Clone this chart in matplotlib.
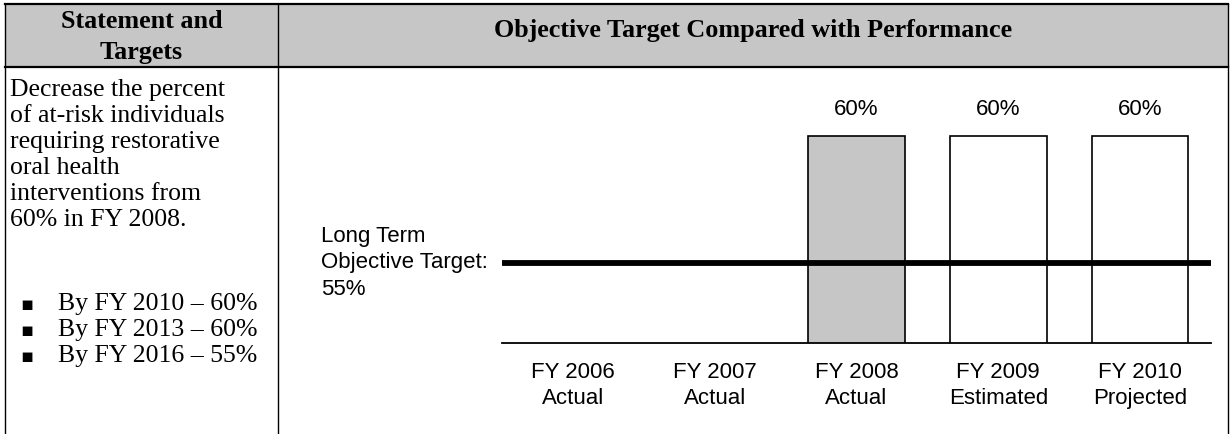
import matplotlib
matplotlib.use("Agg")
import matplotlib.pyplot as plt
from matplotlib.patches import Rectangle
from matplotlib.transforms import blended_transform_factory
import numpy as np

# data
years = ["FY 2006", "FY 2007", "FY 2008", "FY 2009", "FY 2010"]
status = ["Actual", "Actual", "Actual", "Estimated", "Projected"]
values = [None, None, 60, 60, 60]
target = 55

statement = [
    "Decrease the percent",
    "of at-risk individuals",
    "requiring restorative",
    "oral health",
    "interventions from",
    "60% in FY 2008.",
]
target_years = ["FY 2010", "FY 2013", "FY 2016"]
target_values = [60, 60, 55]

W, H = 1230, 434
SERIF = "Liberation Serif"
SANS = "Liberation Sans"
HEAD_GRAY = "#c6c6c6"

fig = plt.figure(figsize=(W / 100, H / 100), dpi=100)

# ─────────────────────────────────────────
# TABLE FRAME (pixel coordinates)
# ─────────────────────────────────────────
bg = fig.add_axes([0, 0, 1, 1])
bg.set_xlim(0, W)
bg.set_ylim(H, 0)
bg.axis("off")

left, mid, right = 5, 278, 1228
top, head_bot = 4, 67

bg.add_patch(Rectangle((left, top), right - left, head_bot - top,
                       fc=HEAD_GRAY, ec="none"))
bg.plot([left, right], [top, top], color="black", lw=1.6)
bg.plot([left, right], [head_bot, head_bot], color="black", lw=1.6)
for x in (left, mid, right):
    bg.plot([x, x], [top, H + 5], color="black", lw=1.0)

bg.text((left + mid) / 2, 22, "Statement and", ha="center", va="center",
        family=SERIF, weight="bold", fontsize=18.8)
bg.text((left + mid) / 2, 52, "Targets", ha="center", va="center",
        family=SERIF, weight="bold", fontsize=18.8)
bg.text((mid + right) / 2, 30, "Objective Target Compared with Performance",
        ha="center", va="center", family=SERIF, weight="bold", fontsize=18.8)

for i, line in enumerate(statement):
    bg.text(10, 90 + 26 * i, line, ha="left", va="center",
            family=SERIF, fontsize=18.5)

for i, (yr, val) in enumerate(zip(target_years, target_values)):
    y = 304 + 26 * i
    bg.text(27, y, "\u25aa", ha="center", va="center",
            family="DejaVu Sans", fontsize=14)
    bg.text(58, y, f"By {yr} \u2013 {val}%", ha="left", va="center",
            family=SERIF, fontsize=18.5)

# ─────────────────────────────────────────
# CHART
# ─────────────────────────────────────────
ax_l, ax_r, ax_t, ax_b = 502, 1211, 85, 343
ax = fig.add_axes([ax_l / W, 1 - ax_b / H, (ax_r - ax_l) / W, (ax_b - ax_t) / H])
ax.set_facecolor("none")

x = np.arange(len(years))
for xi, v, st in zip(x, values, status):
    if v is None:
        continue
    fc = "#c6c6c6" if st == "Actual" else "white"
    ax.bar(xi, v, width=0.68, color=fc, edgecolor="black", linewidth=1.2,
           zorder=2)
    ax.annotate(f"{v}%", (xi, v), xytext=(0, 19), textcoords="offset points",
                ha="center", va="center", family=SANS, fontsize=16)

ax.axhline(target, xmin=0.003, xmax=0.998, color="black", lw=4.2, zorder=3)

ax.set_xlim(-0.5, len(years) - 0.5)
ax.set_ylim(51.85, 62)
ax.set_xticks(x)
ax.set_xticklabels([f"{y}\n{s}" for y, s in zip(years, status)],
                   family=SANS, fontsize=16, linespacing=1.3)
ax.tick_params(axis="x", length=0, pad=14)
ax.set_yticks([])
for side in ("left", "right", "top"):
    ax.spines[side].set_visible(False)
ax.spines["bottom"].set_linewidth(1.3)

trans = blended_transform_factory(bg.transData, ax.transData)
ax.text(321, target, "Long Term\nObjective Target:\n" + f"{target}%",
        transform=trans, ha="left", va="center", family=SANS,
        fontsize=16, linespacing=1.32, clip_on=False)

fig.savefig("out.png", dpi=100)
